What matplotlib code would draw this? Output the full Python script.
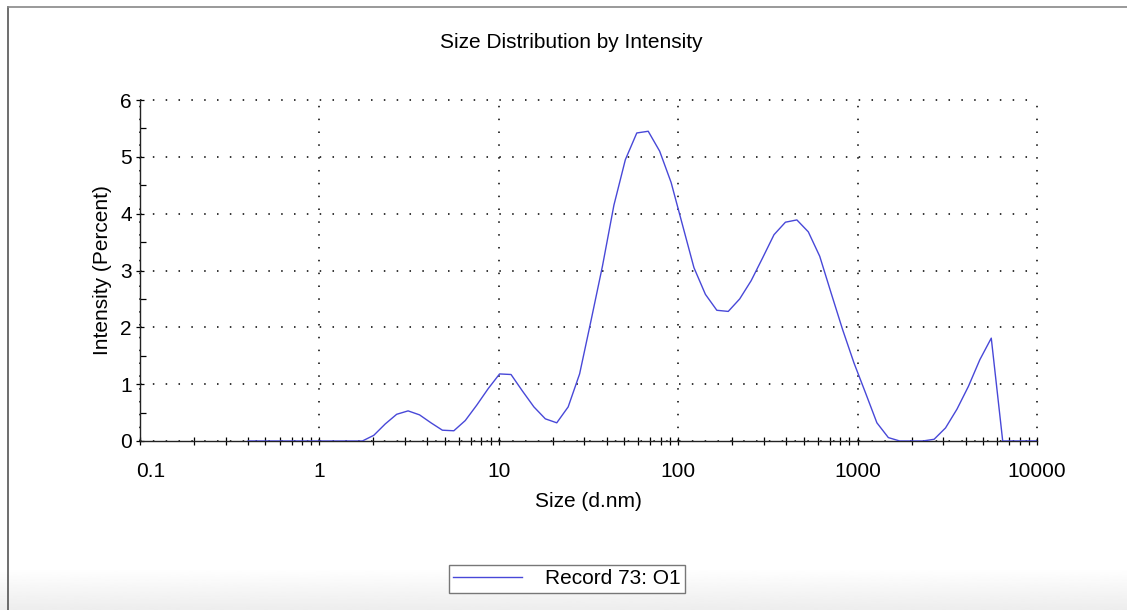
import numpy as np
import matplotlib
matplotlib.use("Agg")
import matplotlib.pyplot as plt
import matplotlib.transforms as mtransforms
from matplotlib.lines import Line2D

plt.rcParams['font.family'] = ['Liberation Sans', 'DejaVu Sans']

# Zetasizer size classes (d.nm)
sizes = [0.4, 0.4632, 0.5365, 0.6213, 0.7195, 0.8332, 0.9649, 1.117, 1.294, 1.499,
         1.736, 2.01, 2.328, 2.696, 3.122, 3.615, 4.187, 4.849, 5.615, 6.503,
         7.531, 8.721, 10.1, 11.7, 13.54, 15.69, 18.17, 21.04, 24.36, 28.21,
         32.67, 37.84, 43.82, 50.75, 58.77, 68.06, 78.82, 91.28, 105.7, 122.4,
         141.8, 164.2, 190.1, 220.2, 255.0, 295.3, 342.0, 396.1, 458.7, 531.2,
         615.1, 712.4, 825.0, 955.4, 1106, 1281, 1484, 1718, 1990, 2305,
         2669, 3091, 3580, 4145, 4801, 5560, 6439, 7456, 8635, 10000]

# Intensity (%)
intensity = [0, 0, 0, 0, 0, 0, 0, 0, 0, 0,
             0, 0.10, 0.30, 0.47, 0.53, 0.46, 0.32, 0.19, 0.18, 0.36,
             0.63, 0.92, 1.18, 1.17, 0.88, 0.60, 0.39, 0.32, 0.60, 1.18,
             2.12, 3.08, 4.15, 4.95, 5.42, 5.45, 5.10, 4.55, 3.80, 3.05,
             2.58, 2.30, 2.28, 2.50, 2.82, 3.22, 3.63, 3.85, 3.89, 3.68,
             3.25, 2.60, 1.96, 1.37, 0.85, 0.32, 0.06, 0.0, 0.0, 0.0,
             0.03, 0.23, 0.56, 0.96, 1.43, 1.81, 0, 0, 0, 0]

series_label = "Record 73: O1"
x_ticks = [0.1, 1, 10, 100, 1000, 10000]
x_ticklabels = ["0.1", "1", "10", "100", "1000", "10000"]
y_ticks = [0, 1, 2, 3, 4, 5, 6]

FS = 15
W, H = 1127, 610
fig = plt.figure(figsize=(W / 100, H / 100), dpi=100)

# light grey gradient at the bottom of the window
bg = fig.add_axes([0, 0, 1, 42 / H], zorder=-5)
grad = np.linspace(1.0, 0.93, 50).reshape(-1, 1)
bg.imshow(grad, cmap='gray', vmin=0, vmax=1, aspect='auto', extent=[0, 1, 0, 1], origin='upper')
bg.set_axis_off()

# window border lines
fig.add_artist(Line2D([8 / W, 8 / W], [0, 1 - 7 / H], transform=fig.transFigure, color='#555555', lw=1.2))
fig.add_artist(Line2D([8 / W, 1], [1 - 7 / H, 1 - 7 / H], transform=fig.transFigure, color='#888888', lw=1.2))

ax = fig.add_axes([140 / W, (H - 441) / H, (1037 - 140) / W, (441 - 100) / H])
line, = ax.plot(sizes, intensity, color='#4848d8', lw=1.0, label=series_label, zorder=3)

ax.set_xscale('log')
ax.set_xlim(0.1, 10000)
ax.set_ylim(0, 6)
ax.set_xticks(x_ticks)
ax.set_xticklabels(x_ticklabels)
ax.set_yticks(y_ticks)
ax.yaxis.set_minor_locator(matplotlib.ticker.MultipleLocator(0.5))
ax.xaxis.set_minor_locator(matplotlib.ticker.LogLocator(base=10, subs=np.arange(2, 10)))
ax.xaxis.set_minor_formatter(matplotlib.ticker.NullFormatter())

for s in ['top', 'right']:
    ax.spines[s].set_visible(False)
for s in ['left', 'bottom']:
    ax.spines[s].set_linewidth(1.0)
    ax.spines[s].set_color('#222222')

ax.tick_params(axis='x', which='both', direction='inout', length=6, width=0.9, labelsize=FS, pad=12)
ax.tick_params(axis='y', which='major', direction='inout', length=6, width=0.9, labelsize=FS, pad=3)
ax.tick_params(axis='y', which='minor', direction='in', length=4.5, width=0.9)

ax.grid(True, which='major', color='black', linestyle=(0, (1, 7.4)), linewidth=1.1)
for gl in ax.xaxis.get_gridlines() + ax.yaxis.get_gridlines():
    gl.set_clip_on(False)

# first label sits a bit inside the axis range
xl = ax.get_xticklabels()
xl[0].set_transform(xl[0].get_transform() + mtransforms.ScaledTranslation(11 / 100, 0, fig.dpi_scale_trans))

ax.set_xlabel("Size (d.nm)", fontsize=FS)
ax.set_ylabel("Intensity (Percent)", fontsize=FS)
ax.xaxis.set_label_coords(0.5, -0.15)
ax.yaxis.set_label_coords(-0.031, 0.5)

fig.text(571 / W, 1 - 43 / H, "Size Distribution by Intensity", ha='center', va='center', fontsize=FS)

leg = fig.legend(handles=[line], loc='center', bbox_to_anchor=(567 / W, 1 - 579 / H),
                 fontsize=FS, frameon=True, fancybox=False, handlelength=3.3,
                 handletextpad=1.1, borderpad=0.2, borderaxespad=0)
leg.get_frame().set_edgecolor('#777777')
leg.get_frame().set_linewidth(1.0)
leg.get_frame().set_facecolor('white')
leg.get_frame().set_alpha(1)

fig.savefig("out.png", dpi=100)
